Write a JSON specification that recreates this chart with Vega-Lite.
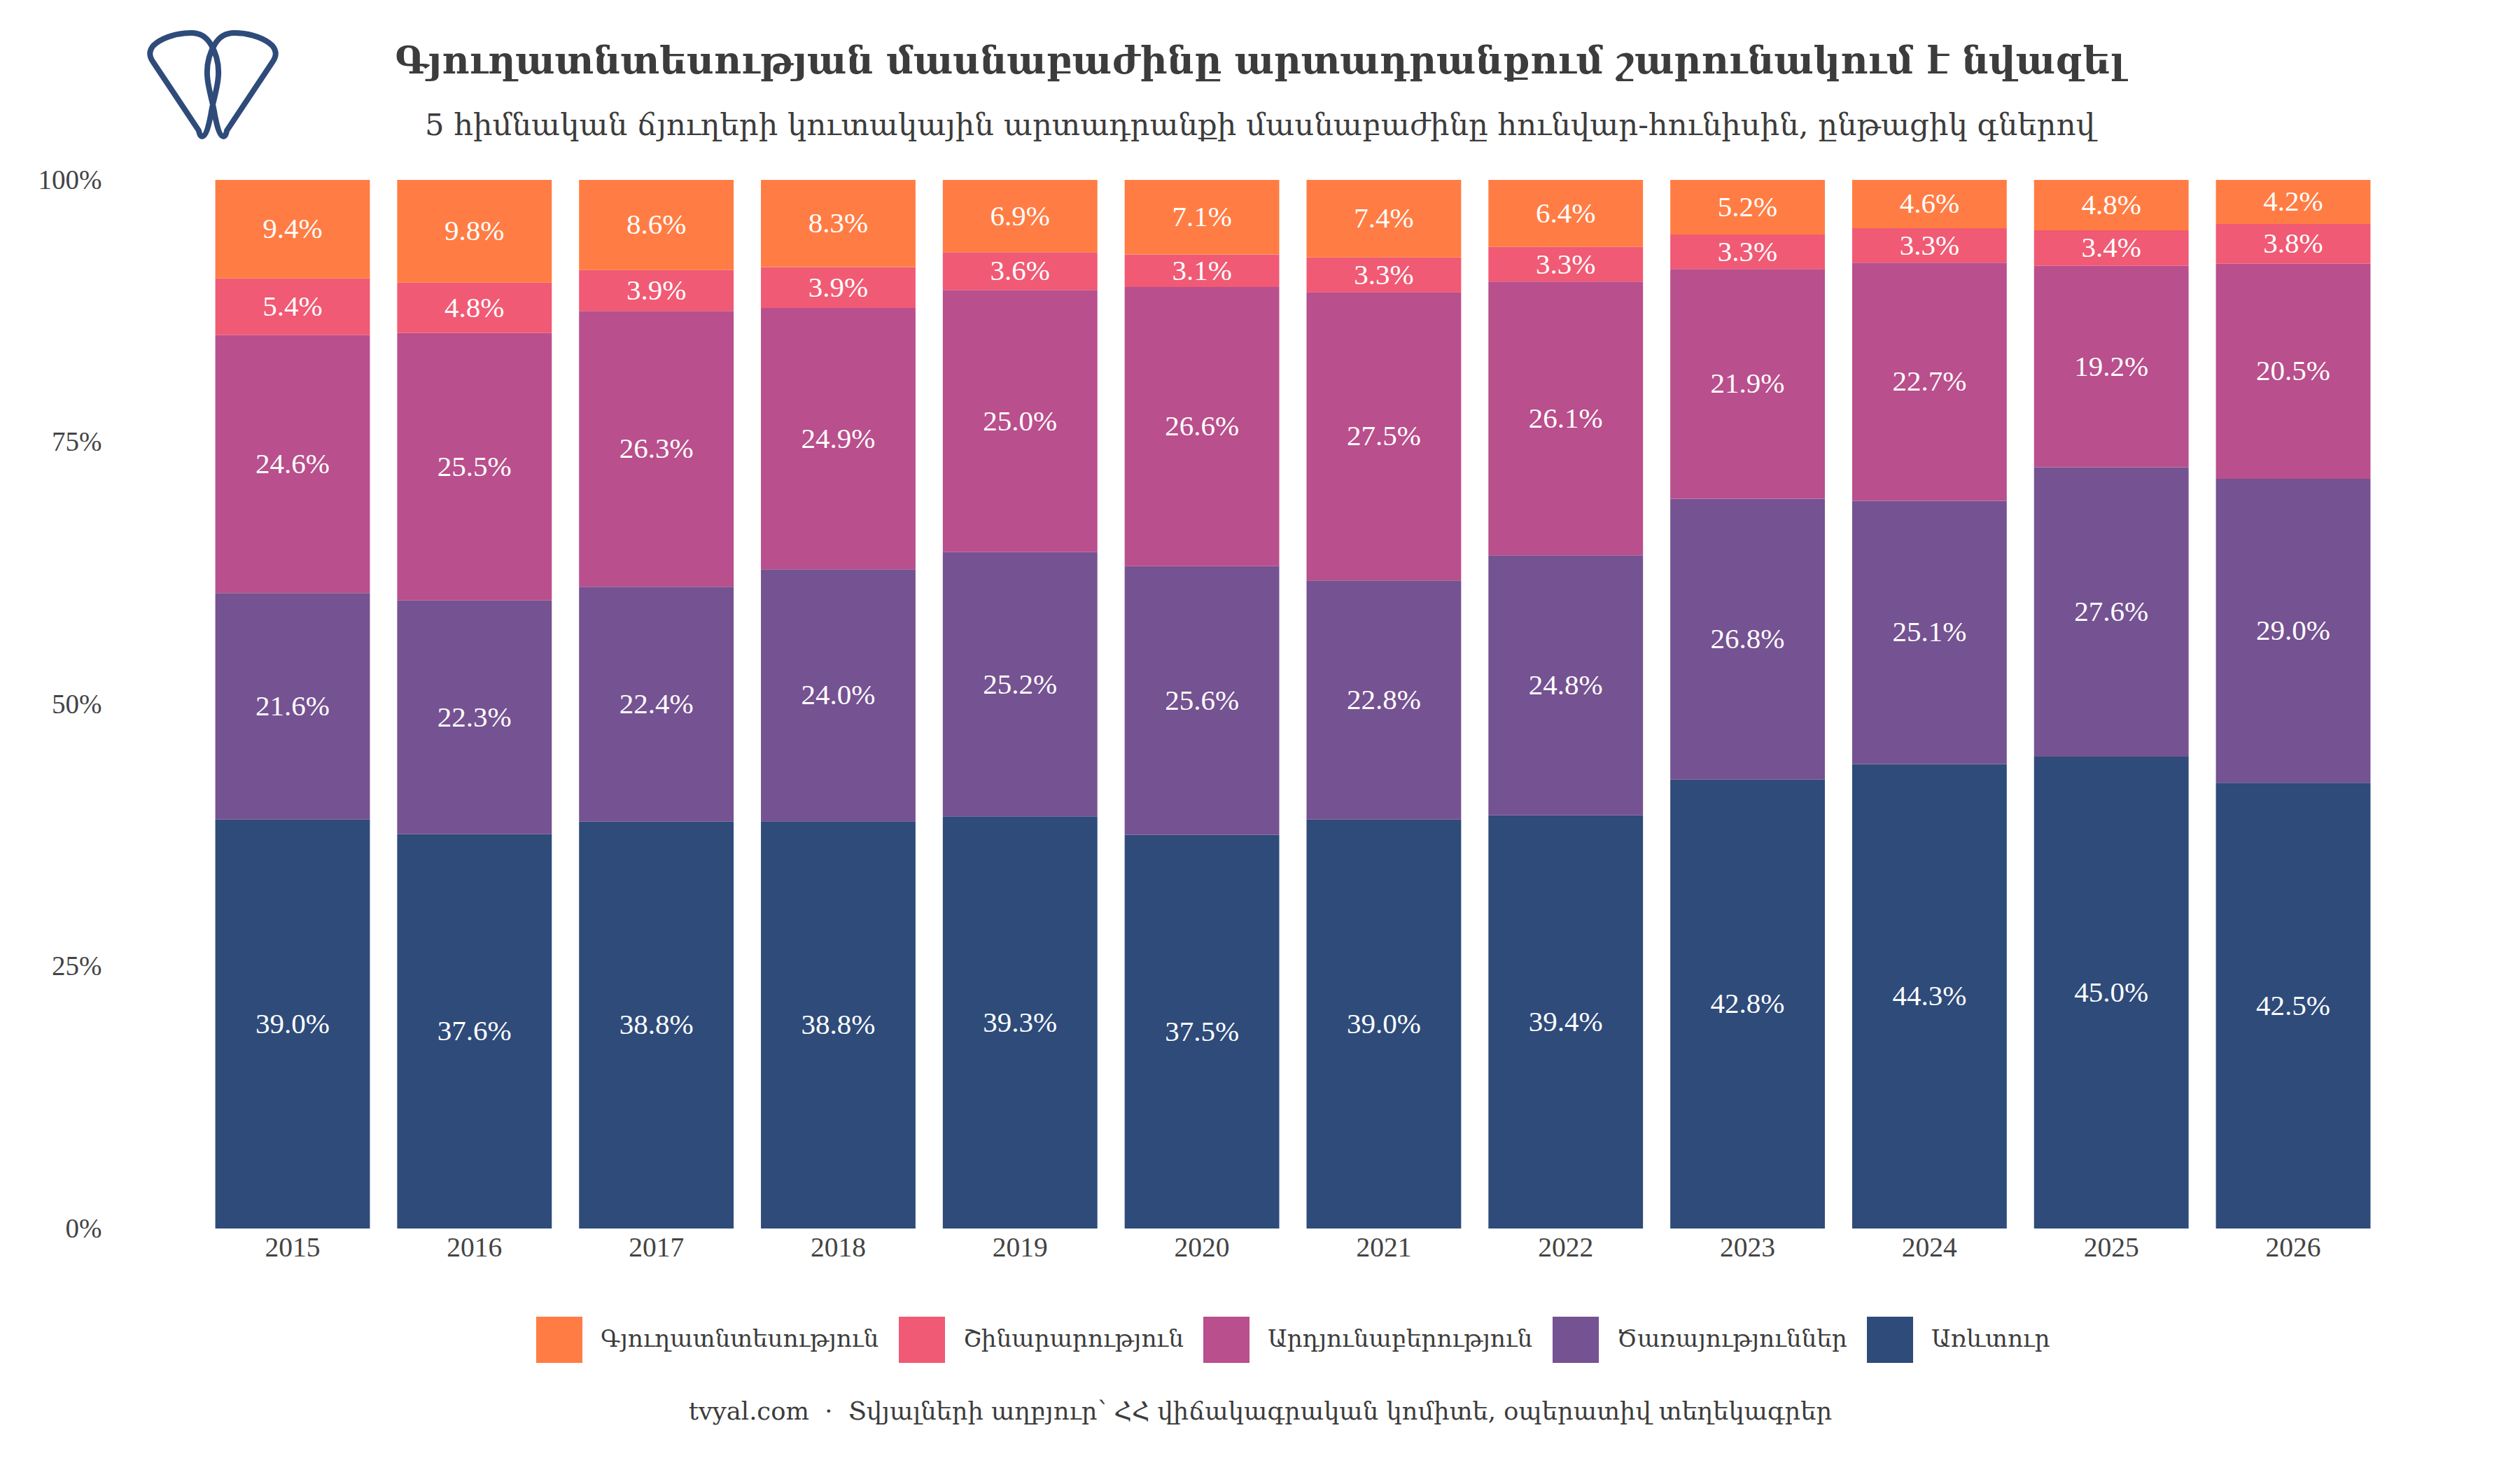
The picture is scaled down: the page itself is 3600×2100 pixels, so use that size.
{"$schema":"https://vega.github.io/schema/vega-lite/v6.json","autosize":{"type":"none"},"padding":{"left":160,"top":257,"right":66,"bottom":345},"width":3374,"height":1498,"background":"white","config":{"view":{"stroke":null},"font":"Liberation Serif, DejaVu Serif"},
"title":{"text":"Գյուղատնտեսության մասնաբաժինը արտադրանքում շարունակում է նվազել","subtitle":"5 հիմնական ճյուղերի կուտակային արտադրանքի մասնաբաժինը հունվար-հունիսին, ընթացիկ գներով","anchor":"middle","frame":"group","dx":-47,"offset":-171,"font":"DejaVu Serif","subtitleFont":"DejaVu Serif","fontSize":53.4,"subtitleFontSize":43.4,"fontWeight":"bold","subtitleFontWeight":"normal","color":"#3c3c3c","subtitleColor":"#3c3c3c","subtitlePadding":42},
"datasets":{"shares":[
{"year":2015,"sector":"Առևտուր","rank":1,"share":0.390},{"year":2015,"sector":"Ծառայություններ","rank":2,"share":0.216},{"year":2015,"sector":"Արդյունաբերություն","rank":3,"share":0.246},{"year":2015,"sector":"Շինարարություն","rank":4,"share":0.054},{"year":2015,"sector":"Գյուղատնտեսություն","rank":5,"share":0.094},
{"year":2016,"sector":"Առևտուր","rank":1,"share":0.376},{"year":2016,"sector":"Ծառայություններ","rank":2,"share":0.223},{"year":2016,"sector":"Արդյունաբերություն","rank":3,"share":0.255},{"year":2016,"sector":"Շինարարություն","rank":4,"share":0.048},{"year":2016,"sector":"Գյուղատնտեսություն","rank":5,"share":0.098},
{"year":2017,"sector":"Առևտուր","rank":1,"share":0.388},{"year":2017,"sector":"Ծառայություններ","rank":2,"share":0.224},{"year":2017,"sector":"Արդյունաբերություն","rank":3,"share":0.263},{"year":2017,"sector":"Շինարարություն","rank":4,"share":0.039},{"year":2017,"sector":"Գյուղատնտեսություն","rank":5,"share":0.086},
{"year":2018,"sector":"Առևտուր","rank":1,"share":0.388},{"year":2018,"sector":"Ծառայություններ","rank":2,"share":0.240},{"year":2018,"sector":"Արդյունաբերություն","rank":3,"share":0.249},{"year":2018,"sector":"Շինարարություն","rank":4,"share":0.039},{"year":2018,"sector":"Գյուղատնտեսություն","rank":5,"share":0.083},
{"year":2019,"sector":"Առևտուր","rank":1,"share":0.393},{"year":2019,"sector":"Ծառայություններ","rank":2,"share":0.252},{"year":2019,"sector":"Արդյունաբերություն","rank":3,"share":0.250},{"year":2019,"sector":"Շինարարություն","rank":4,"share":0.036},{"year":2019,"sector":"Գյուղատնտեսություն","rank":5,"share":0.069},
{"year":2020,"sector":"Առևտուր","rank":1,"share":0.375},{"year":2020,"sector":"Ծառայություններ","rank":2,"share":0.256},{"year":2020,"sector":"Արդյունաբերություն","rank":3,"share":0.266},{"year":2020,"sector":"Շինարարություն","rank":4,"share":0.031},{"year":2020,"sector":"Գյուղատնտեսություն","rank":5,"share":0.071},
{"year":2021,"sector":"Առևտուր","rank":1,"share":0.390},{"year":2021,"sector":"Ծառայություններ","rank":2,"share":0.228},{"year":2021,"sector":"Արդյունաբերություն","rank":3,"share":0.275},{"year":2021,"sector":"Շինարարություն","rank":4,"share":0.033},{"year":2021,"sector":"Գյուղատնտեսություն","rank":5,"share":0.074},
{"year":2022,"sector":"Առևտուր","rank":1,"share":0.394},{"year":2022,"sector":"Ծառայություններ","rank":2,"share":0.248},{"year":2022,"sector":"Արդյունաբերություն","rank":3,"share":0.261},{"year":2022,"sector":"Շինարարություն","rank":4,"share":0.033},{"year":2022,"sector":"Գյուղատնտեսություն","rank":5,"share":0.064},
{"year":2023,"sector":"Առևտուր","rank":1,"share":0.428},{"year":2023,"sector":"Ծառայություններ","rank":2,"share":0.268},{"year":2023,"sector":"Արդյունաբերություն","rank":3,"share":0.219},{"year":2023,"sector":"Շինարարություն","rank":4,"share":0.033},{"year":2023,"sector":"Գյուղատնտեսություն","rank":5,"share":0.052},
{"year":2024,"sector":"Առևտուր","rank":1,"share":0.443},{"year":2024,"sector":"Ծառայություններ","rank":2,"share":0.251},{"year":2024,"sector":"Արդյունաբերություն","rank":3,"share":0.227},{"year":2024,"sector":"Շինարարություն","rank":4,"share":0.033},{"year":2024,"sector":"Գյուղատնտեսություն","rank":5,"share":0.046},
{"year":2025,"sector":"Առևտուր","rank":1,"share":0.450},{"year":2025,"sector":"Ծառայություններ","rank":2,"share":0.276},{"year":2025,"sector":"Արդյունաբերություն","rank":3,"share":0.192},{"year":2025,"sector":"Շինարարություն","rank":4,"share":0.034},{"year":2025,"sector":"Գյուղատնտեսություն","rank":5,"share":0.048},
{"year":2026,"sector":"Առևտուր","rank":1,"share":0.425},{"year":2026,"sector":"Ծառայություններ","rank":2,"share":0.290},{"year":2026,"sector":"Արդյունաբերություն","rank":3,"share":0.205},{"year":2026,"sector":"Շինարարություն","rank":4,"share":0.038},{"year":2026,"sector":"Գյուղատնտեսություն","rank":5,"share":0.042}
],"logo":[{"item":"logo"}]},
"data":{"name":"shares"},
"layer":[
{"mark":{"type":"bar"},"encoding":{
"x":{"field":"year","type":"ordinal","scale":{"paddingInner":0.15,"paddingOuter":0.568},"axis":{"title":"tvyal.com \u00a0·\u00a0 Տվյալների աղբյուր՝ ՀՀ վիճակագրական կոմիտե, օպերատիվ տեղեկագրեր","titleX":1640,"titleY":261,"titleAnchor":"middle","titleAlign":"center","titleBaseline":"middle","titleFont":"DejaVu Serif","titleFontSize":35.3,"titleFontWeight":"normal","titleColor":"#3c3c3c","labelAngle":0,"labelFontSize":39.5,"labelColor":"#444444","labelPadding":8,"ticks":false,"domain":false,"labelFont":"Liberation Serif"}},
"y":{"field":"share","type":"quantitative","stack":"normalize","scale":{"domain":[0,1]},"axis":{"title":null,"format":".0%","values":[0,0.25,0.5,0.75,1],"ticks":false,"domain":false,"grid":false,"labelFontSize":39,"labelColor":"#444444","labelPadding":15,"labelFont":"Liberation Serif"}},
"color":{"field":"sector","type":"nominal","scale":{"domain":["Գյուղատնտեսություն","Շինարարություն","Արդյունաբերություն","Ծառայություններ","Առևտուր"],"range":["#ff7d44","#f05a74","#b94f8c","#755291","#2e4b7a"]},"legend":{"title":null,"orient":"none","legendX":606,"legendY":1624,"direction":"horizontal","columns":5,"symbolType":"square","symbolSize":4356,"symbolStrokeWidth":0,"labelFont":"DejaVu Serif","labelFontSize":34.2,"labelLimit":900,"labelColor":"#3c3c3c","labelOffset":26,"columnPadding":28,"symbolOpacity":1,"encoding":{"labels":{"update":{"dy":{"value":4}}}}}},
"order":{"field":"rank","type":"quantitative"}}},
{"mark":{"type":"text","color":"white","fontSize":41,"font":"Liberation Serif","dy":1},"encoding":{
"x":{"field":"year","type":"ordinal"},
"y":{"field":"share","type":"quantitative","stack":"normalize","bandPosition":0.5},
"text":{"field":"share","type":"quantitative","format":".1%"},
"order":{"field":"rank","type":"quantitative"}}},
{"data":{"name":"logo"},"mark":{"type":"point","shape":"M-.16,.77 C-.19,.77 -.2,.72 -.21,.68 L-.89,-.34 C-.96,-.44 -.95,-.54 -.84,-.62 C-.7,-.72 -.5,-.77 -.32,-.77 C-.2,-.77 -.1,-.72 -.03,-.6 C.06,-.45 .1,-.3 .08,-.1 C.06,.1 0,.25 -.03,.45 C-.06,.6 -.1,.77 -.16,.77 Z M.16,.77 C.19,.77 .2,.72 .21,.68 L.89,-.34 C.96,-.44 .95,-.54 .84,-.62 C.7,-.72 .5,-.77 .32,-.77 C.2,-.77 .1,-.72 .03,-.6 C-.06,-.45 -.1,-.3 -.08,-.1 C-.06,.1 0,.25 .03,.45 C.06,.6 .1,.77 .16,.77 Z","size":36900,"filled":false,"stroke":"#2e4b7a","strokeWidth":8,"opacity":1,"xOffset":-114},"encoding":{"x":{"datum":2015,"type":"ordinal"},"y":{"datum":1.0908,"type":"quantitative"}}}
]}
